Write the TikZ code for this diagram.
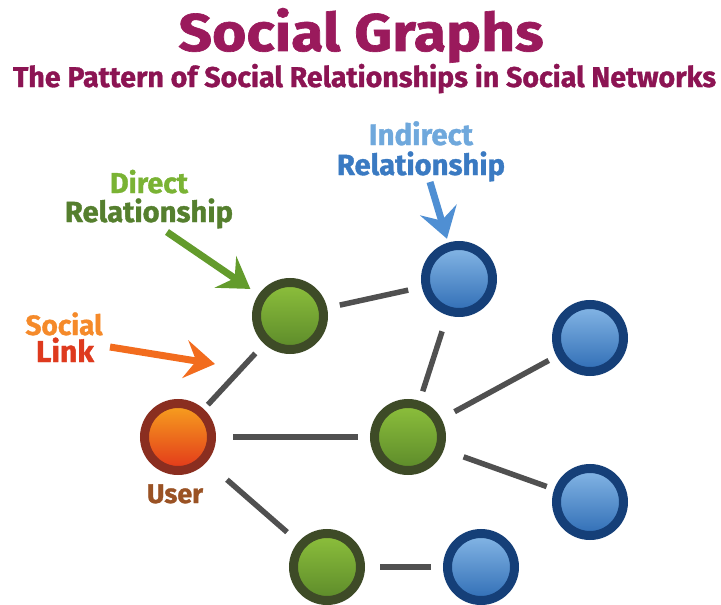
\documentclass[tikz,border=0pt]{standalone}
\usepackage{fontspec}
\setmainfont{Fira Sans}[BoldFeatures={FakeBold=1.2}]
\usetikzlibrary{arrows.meta}

\definecolor{titlecol}{HTML}{9A1A5C}
\definecolor{subcol}{HTML}{8C1453}
\definecolor{greenlt}{HTML}{8DC03C}
\definecolor{greendk}{HTML}{5C8A2A}
\definecolor{greenring}{HTML}{3E4B27}
\definecolor{bluelt}{HTML}{86B7E6}
\definecolor{bluedk}{HTML}{2F6DB5}
\definecolor{bluering}{HTML}{153F78}
\definecolor{orglt}{HTML}{F7A21F}
\definecolor{orgdk}{HTML}{E2361A}
\definecolor{orgring}{HTML}{8A2E20}
\definecolor{linkgray}{HTML}{505050}
\definecolor{directtxt}{HTML}{7AB334}
\definecolor{relgreen}{HTML}{557F2E}
\definecolor{directarrow}{HTML}{639B2C}
\definecolor{socialtxt}{HTML}{F58A2A}
\definecolor{linktxt}{HTML}{DE3A1E}
\definecolor{socialarrow}{HTML}{F26C1E}
\definecolor{indirecttxt}{HTML}{6FA8DC}
\definecolor{relblue}{HTML}{3A7AC2}
\definecolor{indirectarrow}{HTML}{4F8FD3}
\definecolor{usertxt}{HTML}{9A5224}

\begin{document}
\begin{tikzpicture}[x=1pt,y=-1pt,
  person/.style={circle, inner sep=0pt, minimum size=67pt, line width=9pt},
  greennode/.style={person, draw=greenring, top color=greenlt, bottom color=greendk},
  bluenode/.style={person, draw=bluering, top color=bluelt, bottom color=bluedk},
  usernode/.style={person, draw=orgring, top color=orglt, bottom color=orgdk},
  tie/.style={draw=linkgray, line width=5.5pt},
  pointer/.style={line width=7pt, -{Stealth[length=30pt,width=38pt,inset=11pt]}},
  lbl/.style={font=\bfseries, inner sep=0pt, anchor=base}]

\useasboundingbox (0,0) rectangle (721,605);

% heading
\node[lbl, text=titlecol] (title) at (361,51) {\resizebox{365pt}{43pt}{Social Graphs}};
\node[lbl, text=subcol] (subtitle) at (364.5,87)
  {\resizebox{703pt}{!}{The Pattern of Social Relationships in Social Networks}};

% people
\node[usernode]  (user) at (178,437) {};
\node[greennode] (g1)   at (290,316) {};
\node[greennode] (g2)   at (408,437) {};
\node[greennode] (g3)   at (327,567) {};
\node[bluenode]  (b1)   at (459,279) {};
\node[bluenode]  (b2)   at (590,338) {};
\node[bluenode]  (b3)   at (590,502) {};
\node[bluenode]  (b4)   at (481,567) {};

% social links
\draw[tie, shorten <=6pt,  shorten >=13pt] (user) -- (g1);
\draw[tie, shorten <=17pt, shorten >=12pt] (user) -- (g2);
\draw[tie, shorten <=27pt, shorten >=15pt] (user) -- (g3);
\draw[tie, shorten <=15pt, shorten >=12pt] (g3) -- (b4);
\draw[tie, shorten <=13pt, shorten >=14pt] (g1) -- (b1);
\draw[tie, shorten <=17pt, shorten >=10pt] (b1) -- (g2);
\draw[tie, shorten <=15pt, shorten >=9pt]  (g2) -- (b2);
\draw[tie, shorten <=21pt, shorten >=8pt]  (g2) -- (b3);

% labels
\node[lbl, text=usertxt] (userlbl) at (175,503) {\resizebox{56pt}{!}{User}};

\node[lbl, text=directtxt] (direct) at (149,193) {\resizebox{78pt}{!}{Direct}};
\node[lbl, text=relgreen] (directrel) at (149,222) {\resizebox{168pt}{!}{Relationship}};
\coordinate (dtail) at (167,232);
\draw[pointer, draw=directarrow, fill=directarrow, shorten >=10pt] (dtail) -- (g1);

\node[lbl, text=socialtxt] (social) at (64,335) {\resizebox{77pt}{!}{Social}};
\node[lbl, text=linktxt] (link) at (65,362) {\resizebox{58pt}{!}{Link}};
\coordinate (stail) at (110,347);
\coordinate (stip) at (215,364);
\draw[pointer, draw=socialarrow, fill=socialarrow] (stail) -- (stip);

\node[lbl, text=indirecttxt] (indirect) at (421,145) {\resizebox{104pt}{!}{Indirect}};
\node[lbl, text=relblue] (indirectrel) at (421,175) {\resizebox{168pt}{!}{Relationship}};
\coordinate (itail) at (430,182);
\draw[pointer, draw=indirectarrow, fill=indirectarrow, shorten >=4pt] (itail) -- (b1);

\end{tikzpicture}
\end{document}
